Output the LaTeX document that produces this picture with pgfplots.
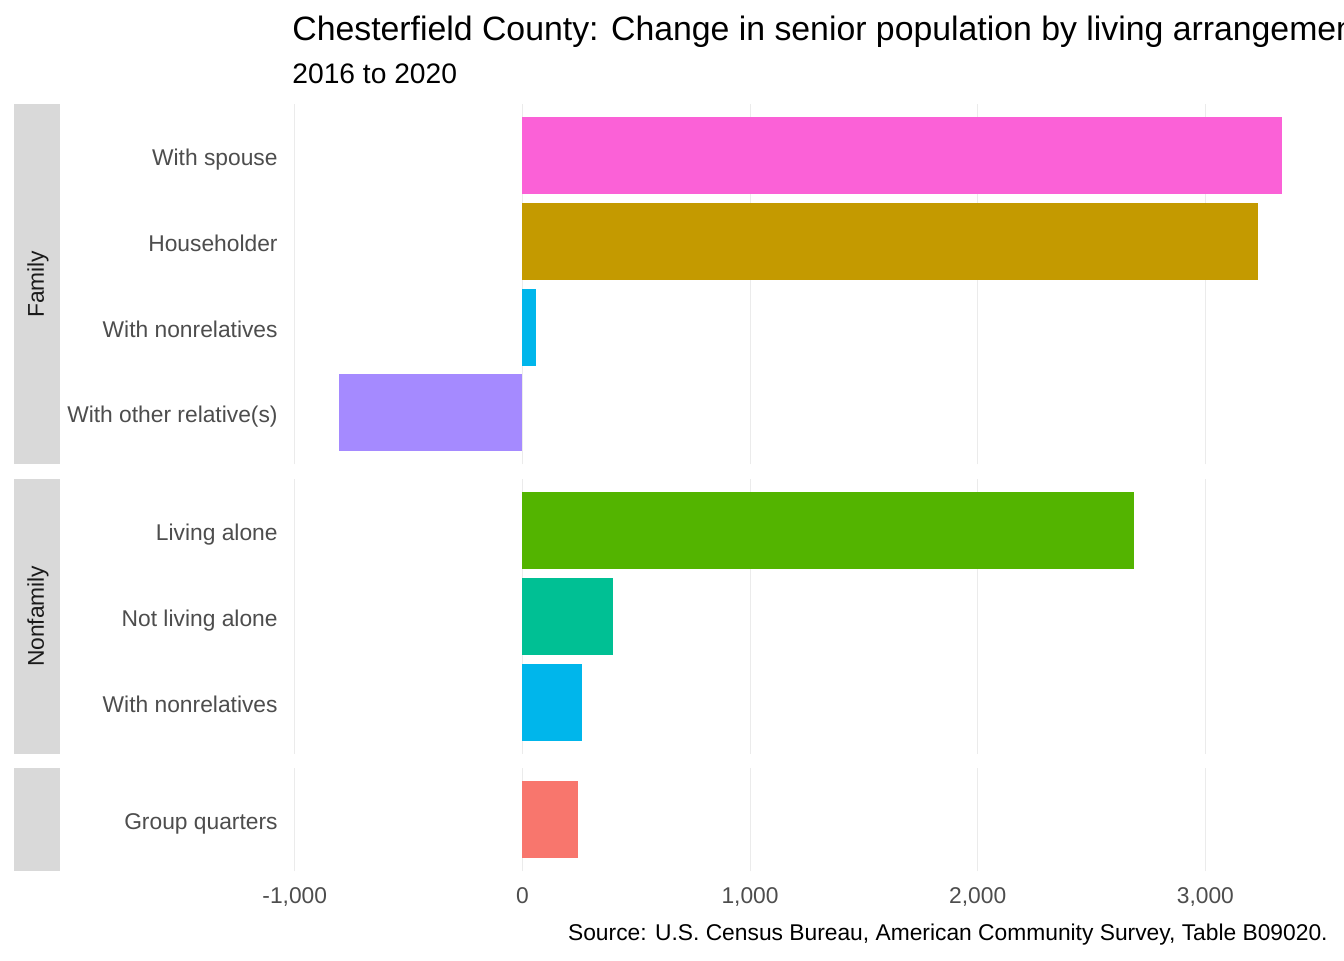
\documentclass[border=0pt]{standalone}
\usepackage{fontspec}
\setmainfont{Liberation Sans}
\usepackage{pgfplots}
\pgfplotsset{compat=1.18}

\definecolor{cSpouse}{HTML}{FB61D7}
\definecolor{cHouse}{HTML}{C49A00}
\definecolor{cNonrel}{HTML}{00B6EB}
\definecolor{cOther}{HTML}{A58AFF}
\definecolor{cAlone}{HTML}{53B400}
\definecolor{cNotAlone}{HTML}{00C094}
\definecolor{cGroup}{HTML}{F8766D}
\definecolor{gridgray}{HTML}{EBEBEB}
\definecolor{tickgray}{HTML}{4D4D4D}
\definecolor{stripgray}{HTML}{D9D9D9}
\definecolor{striptext}{HTML}{1A1A1A}

% one facet panel; 1px of the reference = 0.5pt
\pgfplotsset{
  panel/.style={
    scale only axis, width=518.5pt, anchor=north west,
    xmin=-1012, xmax=3543,
    xtick={-1000,0,1000,2000,3000},
    xmajorgrids, ymajorgrids=false,
    major grid style={color=gridgray, line width=0.5pt},
    axis line style={draw=none}, tick style={draw=none},
    major tick length=0pt,
    ticklabel style={font=\fontsize{11.4}{13}\selectfont, text=tickgray},
    yticklabel style={inner sep=0pt, anchor=base east, xshift=-7pt, yshift=-5pt},
  },
  bars/.style={xbar, bar shift=0pt, bar width=38.5pt, draw=none, fill=#1},
}

\begin{document}
\begin{tikzpicture}
\path[use as bounding box, clip] (0,0) rectangle (672pt,-480pt);
\fill[white] (0,0) rectangle (672pt,-480pt);

% strips
\fill[stripgray] (7pt,-52pt) rectangle (30pt,-232.2pt);
\fill[stripgray] (7pt,-239.5pt) rectangle (30pt,-376.8pt);
\fill[stripgray] (7pt,-384pt) rectangle (30pt,-435.5pt);
\node[rotate=90, text=striptext, font=\fontsize{11.4}{13}\selectfont] at (19pt,-142.1pt) {Family};
\node[rotate=90, text=striptext, font=\fontsize{11.4}{13}\selectfont] at (19pt,-308.15pt) {Nonfamily};

% Family
\begin{axis}[panel, at={(146pt,-52pt)}, height=180.2pt,
  ymin=-0.6, ymax=3.6, ytick={0,1,2,3},
  yticklabels={With other relative(s), With nonrelatives, Householder, With spouse},
  xticklabels={}]
\addplot[bars=cSpouse] coordinates {(3336,3)};
\addplot[bars=cHouse] coordinates {(3231,2)};
\addplot[bars=cNonrel] coordinates {(60,1)};
\addplot[bars=cOther] coordinates {(-805,0)};
\end{axis}

% Nonfamily
\begin{axis}[panel, at={(146pt,-239.5pt)}, height=137.3pt,
  ymin=-0.6, ymax=2.6, ytick={0,1,2},
  yticklabels={With nonrelatives, Not living alone, Living alone},
  xticklabels={}]
\addplot[bars=cAlone] coordinates {(2686,2)};
\addplot[bars=cNotAlone] coordinates {(398,1)};
\addplot[bars=cNonrel] coordinates {(262,0)};
\end{axis}

% Group quarters
\begin{axis}[panel, at={(146pt,-384pt)}, height=51.5pt,
  ymin=-0.6, ymax=0.6, ytick={0},
  yticklabels={Group quarters},
  xticklabels={{-1,000},{0},{1,000},{2,000},{3,000}},
  xticklabel style={inner sep=0pt, yshift=-8pt}]
\addplot[bars=cGroup] coordinates {(244,0)};
\end{axis}

% titles and caption
\node[anchor=base west, font=\fontsize{16.9}{20}\selectfont, inner sep=0pt] at (146pt,-20pt)
  {Chesterfield County: Change in senior population by living arrangement};
\node[anchor=base west, font=\fontsize{14.1}{17}\selectfont, inner sep=0pt] at (146pt,-41.5pt)
  {2016 to 2020};
\node[anchor=base east, font=\fontsize{11.4}{13}\selectfont, inner sep=0pt] at (664pt,-470pt)
  {Source: U.S. Census Bureau, American Community Survey, Table B09020.};
\end{tikzpicture}
\end{document}
